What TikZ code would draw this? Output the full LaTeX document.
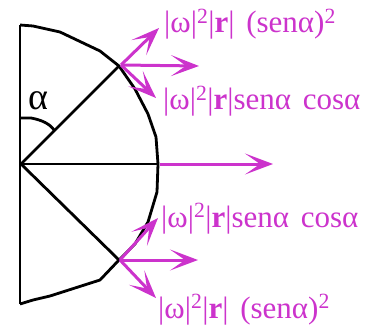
\documentclass[tikz,border=0pt]{standalone}
\usepackage{fontspec}
\setmainfont{Liberation Serif}
\usetikzlibrary{arrows.meta}
\definecolor{mag}{RGB}{204,51,204}
\tikzset{
  shape line/.style={black, line width=2.8pt, line join=round},
  force/.style={mag, line width=3pt, -{Stealth[length=28pt,width=21pt,inset=15pt]}},
  lbl/.style={mag, anchor=base west, inner sep=0pt, font=\fontsize{31}{34}\selectfont},
}
\newcommand{\gap}{\hspace{0.38em}}
\begin{document}
\begin{tikzpicture}[x=1pt,y=-1pt]
\useasboundingbox (0,0) rectangle (382,331);
% shape
\coordinate (T) at (20,25);
\coordinate (B) at (20,304);
\coordinate (O) at (21,164);
\coordinate (P1) at (119,66);
\coordinate (P2) at (119,260);
\coordinate (R) at (158,164);
\draw[shape line] (T) -- (B);
\draw[shape line] (T) -- (33,26) -- (60,32) -- (100,51) -- (P1) -- (135,89) -- (148,114) -- (156,137) -- (R)
  -- (157,192) -- (148,222) -- (135,244) -- (P2) -- (100,280) -- (50,296) -- (33,300) -- (B);
\draw[shape line] (O) -- (P1);
\draw[shape line] (O) -- (R);
\draw[shape line] (O) -- (P2);
% angle
\coordinate (A1) at (20,118);
\coordinate (A2) at (54,130);
\draw[shape line] (A1) -- (31,118) .. controls (42,120) and (50,124) .. (A2);
\node[font=\fontsize{38}{40}\selectfont, inner sep=0pt] (alpha) at (38,101) {α};
% forces
\coordinate (M0) at (160,164);
\coordinate (M1) at (273,164);
\draw[force] (M0) -- (M1);
\coordinate (U0) at (121,65);
\coordinate (U1) at (159,28);
\coordinate (U2) at (199,66);
\coordinate (U3) at (156,98);
\draw[force] (U0) -- (U1);
\draw[force] (U0) -- (U2);
\draw[force] (U0) -- (U3);
\coordinate (L0) at (120,260);
\coordinate (L1) at (158,218);
\coordinate (L2) at (198,260);
\coordinate (L3) at (156,298);
\draw[force] (L0) -- (L1);
\draw[force] (L0) -- (L2);
\draw[force] (L0) -- (L3);
% labels
\node[lbl] (t1) at (164,33) {|ω|\textsuperscript{2}|\textbf{r}|\gap(senα)\textsuperscript{2}};
\node[lbl] (t2) at (163,110) {|ω|\textsuperscript{2}|\textbf{r}|senα\gap cosα};
\node[lbl] (t3) at (161,227) {|ω|\textsuperscript{2}|\textbf{r}|senα\gap cosα};
\node[lbl] (t4) at (158,318) {|ω|\textsuperscript{2}|\textbf{r}|\gap(senα)\textsuperscript{2}};
\end{tikzpicture}
\end{document}
